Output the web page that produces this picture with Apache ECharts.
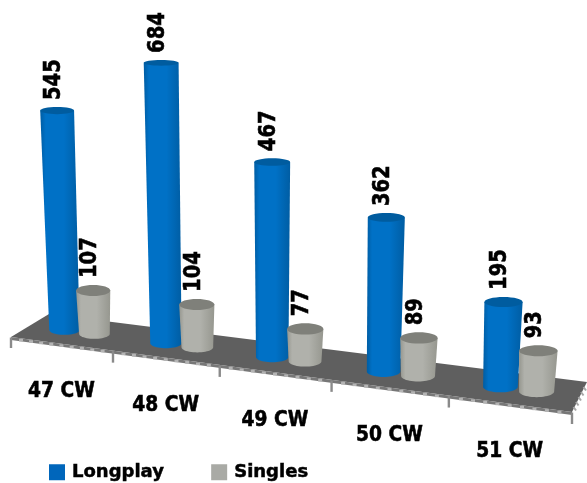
<!DOCTYPE html>
<html>
<head>
<meta charset="utf-8">
<style>html,body{margin:0;padding:0;background:#fff}#chart{width:587px;height:483px}</style>
<script src="https://cdn.jsdelivr.net/npm/echarts@6/dist/echarts.min.js"></script>
</head>
<body>
<div id="chart"></div>
<script>
// Weekly release counts
const weeks = ['47 CW', '48 CW', '49 CW', '50 CW', '51 CW'];
const longplay = [545, 684, 467, 362, 195];
const singles = [107, 104, 77, 89, 93];

// Floor corners of the tilted plot plane, in page pixels
const FRONT_L = [11, 337], FRONT_R = [572, 412];
const BACK_L = [49, 314], BACK_R = [587, 382];
const FONT = '"DejaVu Sans", sans-serif';

const chart = echarts.init(document.getElementById('chart'), null, { renderer: 'canvas' });

// Foreshortening along the axis: near end of the floor is drawn larger
const foreshorten = t => t / (t + 1.125 * (1 - t));
const mix = (a, b, k) => [a[0] + (b[0] - a[0]) * k, a[1] + (b[1] - a[1]) * k];
// u: position along the axis (0..1), d: depth across the floor (0 front, 1 back)
function floorPoint(u, d) {
  const k = foreshorten(u);
  return mix(mix(FRONT_L, FRONT_R, k), mix(BACK_L, BACK_R, k), d);
}
function axisPos(params, px) {
  return (px - params.coordSys.x) / params.coordSys.width;
}

function renderFloor(params, api) {
  const i = api.value(0);
  const band = api.size([1, 0])[0] / params.coordSys.width;
  const cu = axisPos(params, api.coord([i, 0])[0]);
  const u0 = cu - band / 2, u1 = cu + band / 2;
  const drop = (p, dy) => [p[0], p[1] + dy];
  const kids = [];
  if (i === 0) {
    // the floor plane and its thin front face, drawn once
    kids.push({
      type: 'polygon',
      shape: { points: [floorPoint(0, 0), floorPoint(1, 0), floorPoint(1, 1), floorPoint(0, 1)] },
      style: { fill: '#5f5f5f' }
    }, {
      type: 'polygon',
      shape: { points: [floorPoint(0, 0), floorPoint(1, 0), drop(floorPoint(1, 0), 3), drop(floorPoint(0, 0), 3)] },
      style: { fill: '#777777' }
    });
  }
  const tick = (u, len, w, color) => {
    const p = floorPoint(u, 0);
    kids.push({
      type: 'line',
      shape: { x1: p[0], y1: p[1] + 0.5, x2: p[0], y2: p[1] + len },
      style: { stroke: color, lineWidth: w }
    });
  };
  // minor ticks along the front edge
  for (let m = 1; m < 10; m++) tick(u0 + (u1 - u0) * m / 10, 3.2, 4, '#b4b4b4');
  // major ticks at the band edges
  tick(u1, 12, 2.4, '#8a8a8a');
  if (i === 0) tick(u0, 11, 2.4, '#8a8a8a');
  if (i === weeks.length - 1) {
    // ticks on the right-hand depth edge
    for (let m = 1; m < 6; m++) {
      const p = floorPoint(1, m / 6);
      kids.push({
        type: 'line',
        shape: { x1: p[0] - 1, y1: p[1], x2: p[0] + 1.5, y2: p[1] + 3.5 },
        style: { stroke: '#a6a6a6', lineWidth: 2 }
      });
    }
  }
  // week label below the band
  const c = floorPoint(cu, 0);
  kids.push({
    type: 'text', x: c[0], y: c[1] + 48, scaleX: 0.89,
    style: {
      text: weeks[i], font: 'bold 21px ' + FONT, fill: '#000',
      stroke: '#000', lineWidth: 0.6,
      align: 'center', verticalAlign: 'middle'
    },
    z2: 5
  });
  return { type: 'group', children: kids };
}

function cylinderRenderer(shift, edge, centre, topColor) {
  return function (params, api) {
    const i = api.value(0), v = api.value(1);
    const band = api.size([1, 0])[0] / params.coordSys.width;
    const u = axisPos(params, api.coord([i, 0])[0]) + shift * band;
    const k = foreshorten(u);
    const base = floorPoint(u, 0.5);
    const h = api.size([0, v])[1] * (1 + 0.1 * k);
    const w = 30 + 5.5 * k;
    const ryBase = 4.8 + k;
    const ryTop = Math.max(2.9, 6 - 0.011 * h);
    const topX = base[0] + (base[0] - 273) * 0.00016 * h;
    const topY = base[1] - h;
    const rt = (w + 3.5) / 2;
    const pts = [[topX - rt, topY]];
    for (let a = 0; a <= 24; a++) {
      const th = Math.PI - Math.PI * a / 24;
      pts.push([base[0] + Math.cos(th) * w / 2, base[1] + Math.sin(th) * ryBase]);
    }
    pts.push([topX + rt, topY]);
    return {
      type: 'group',
      children: [{
        type: 'polygon',
        shape: { points: pts },
        style: {
          fill: new echarts.graphic.LinearGradient(0, 0, 1, 0, [
            { offset: 0, color: edge },
            { offset: 0.14, color: centre },
            { offset: 0.6, color: centre },
            { offset: 1, color: edge }
          ])
        }
      }, {
        type: 'ellipse',
        shape: { cx: topX, cy: topY, rx: rt, ry: ryTop },
        style: { fill: topColor }
      }, {
        // value label, reading upward above the cylinder
        type: 'text', x: topX - 3, y: topY - ryTop - 7,
        rotation: Math.PI / 2, scaleX: 0.85,
        style: {
          text: String(v), font: 'bold 23px ' + FONT, fill: '#000',
          stroke: '#000', lineWidth: 0.6,
          align: 'left', verticalAlign: 'middle'
        },
        z2: 10
      }]
    };
  };
}

chart.setOption({
  animation: false,
  backgroundColor: '#fff',
  grid: { left: 0, right: 0, top: 20, height: 320 },
  xAxis: { type: 'category', data: weeks, show: false },
  yAxis: { type: 'value', min: 0, max: 800, show: false },
  legend: {
    data: ['Longplay', 'Singles'],
    left: 44, top: 458,
    icon: 'rect', itemWidth: 16, itemHeight: 16, itemGap: 47,
    textStyle: {
      fontFamily: FONT, fontWeight: 'bold', fontSize: 18, color: '#000',
      textBorderColor: '#000', textBorderWidth: 0.5, padding: [0, 0, 7, 2]
    },
    selectedMode: false
  },
  series: [
    {
      type: 'custom', name: 'floor', silent: true, z: 1,
      data: weeks.map((_, i) => [i, 0]),
      renderItem: renderFloor, encode: { x: 0, y: 1 }
    },
    {
      type: 'custom', name: 'Longplay', silent: true, z: 2,
      itemStyle: { color: '#0066bb' },
      data: longplay.map((v, i) => [i, v]),
      renderItem: cylinderRenderer(-0.15, '#005da3', '#0071c6', '#005c9f'),
      encode: { x: 0, y: 1 }
    },
    {
      type: 'custom', name: 'Singles', silent: true, z: 3,
      itemStyle: { color: '#a9aaa5' },
      data: singles.map((v, i) => [i, v]),
      renderItem: cylinderRenderer(0.15, '#96978f', '#b0b1ab', '#7f807a'),
      encode: { x: 0, y: 1 }
    }
  ]
});
</script>
</body>
</html>
